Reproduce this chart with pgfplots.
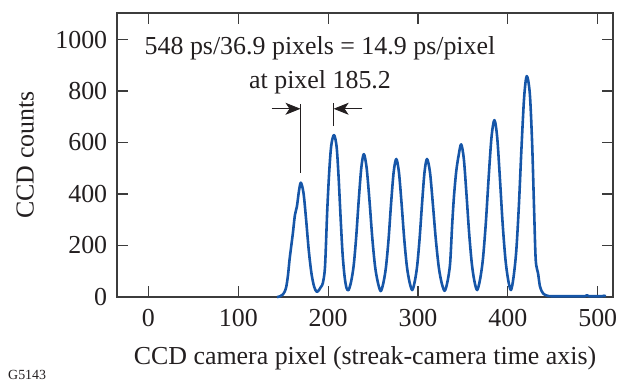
\documentclass[border=0pt]{standalone}
\usepackage{fontspec}
\setmainfont{Liberation Serif}
\usepackage{pgfplots}
\pgfplotsset{compat=1.18}
\usetikzlibrary{arrows.meta}
\definecolor{curve}{RGB}{22,86,168}
\definecolor{axisgray}{RGB}{60,60,60}
\definecolor{txt}{RGB}{35,31,32}
\begin{document}
\fontsize{26}{30}\selectfont
\begin{tikzpicture}[x=1bp,y=1bp]
\begin{axis}[
  at={(117bp,84bp)}, anchor=south west,
  scale only axis, width=496bp, height=284bp,
  xmin=-35, xmax=517, ymin=0, ymax=1103,
  xtick={0,100,...,500}, ytick={0,200,...,1000},
  tick align=inside, major tick length=11bp,
  axis line style={axisgray, line width=1.2pt},
  every tick/.style={axisgray, line width=1.1pt},
  tick label style={font=\fontsize{26}{30}\selectfont, text=txt},
  /pgf/number format/assume math mode=true,
  /pgf/number format/1000 sep={},
  xticklabel style={yshift=-3bp},
  yticklabel style={xshift=-1bp},
  xlabel={CCD camera pixel (streak-camera time axis)},
  ylabel={CCD counts},
  xlabel style={at={(axis description cs:0.5,-0.2394)}, anchor=base, font=\fontsize{26}{30}\selectfont, text=txt},
  ylabel style={at={(axis description cs:-0.185,0.5)}, anchor=center, font=\fontsize{26}{30}\selectfont, text=txt},
  clip=false,
]
\addplot[curve, line width=2.6pt, line join=round, smooth, tension=0.5] coordinates {
(143,0) (146,2) (149,8) (151.5,20) (153.4,40) (155.3,85) (157,144) (159,200) (160.7,247) (163,318) (165.2,351) (167.4,409) (169.6,444)
(172.6,403) (175.5,299) (178.4,182) (181.4,92) (184.4,40) (187.3,20)
(190,28) (192.1,40) (194,53) (196.5,118) (199,338) (201.3,493) (203.5,590) (206.5,629)
(209.4,584) (211.6,467) (213.8,312) (216,170) (218.3,79) (220.5,34) (222.7,27)
(225.5,59) (228.4,122) (231.2,233) (234.0,375) (236.9,502) (239.7,555)
(242.8,502) (246.0,374) (249.1,230) (252.2,119) (255.4,55) (258.5,23)
(261.4,54) (264.3,115) (267.2,223) (270.0,362) (272.9,485) (275.8,536)
(278.75,485) (281.7,363) (284.65,226) (287.6,119) (290.55,58) (293.5,27)
(296.25,58) (299.0,119) (301.75,226) (304.5,363) (307.25,485) (310,536)
(313.3,485) (316.5,362) (319.8,224) (323.1,116) (326.3,55) (329.6,24)
(332.7,58) (335.7,130) (338.0,280) (340.0,390) (342.5,487) (345.1,548) (348,593)
(351.0,536) (353.9,401) (356.9,248) (359.9,129) (362.8,61) (365.8,27)
(369.0,67) (372.2,146) (375.4,284) (378.6,463) (381.8,621) (385,687)
(388.1,621) (391.1,463) (394.2,284) (397.3,146) (400.3,67) (403.4,27)
(406.3,77) (409.3,177) (412.2,351) (415.1,575) (418.1,775) (421,858)
(424.4,791) (427,597) (429.2,338) (431,144) (433.6,92) (435.8,40) (439.2,14) (444.7,4)
(455,3) (470,3) (480,3) (486,3) (488,7) (490,3) (500,3) (505,3) (507,5) (509,3)
};
\draw[txt, line width=0.9pt] (axis cs:169.2,482) -- (axis cs:169.2,750);
\draw[txt, line width=0.9pt] (axis cs:206.1,664) -- (axis cs:206.1,753);
\draw[txt, line width=0.9pt, -{Stealth[length=15bp,width=12bp,inset=4bp]}] (axis cs:137.2,731) -- (axis cs:169.2,731);
\draw[txt, line width=0.9pt, -{Stealth[length=15bp,width=12bp,inset=4bp]}] (axis cs:238.2,731) -- (axis cs:206.1,731);
\end{axis}
\node[anchor=base, inner sep=0pt, text=txt] at (320bp,326bp) {548 ps/36.9 pixels = 14.9 ps/pixel};
\node[anchor=base, inner sep=0pt, text=txt] at (320bp,292bp) {at pixel 185.2};
\node[anchor=base west, inner sep=0pt, font=\fontsize{14}{17}\selectfont, text=txt] at (8bp,2bp) {G5143};
\pgfresetboundingbox
\path (0,0) rectangle (621bp,381bp);
\end{tikzpicture}
\end{document}
